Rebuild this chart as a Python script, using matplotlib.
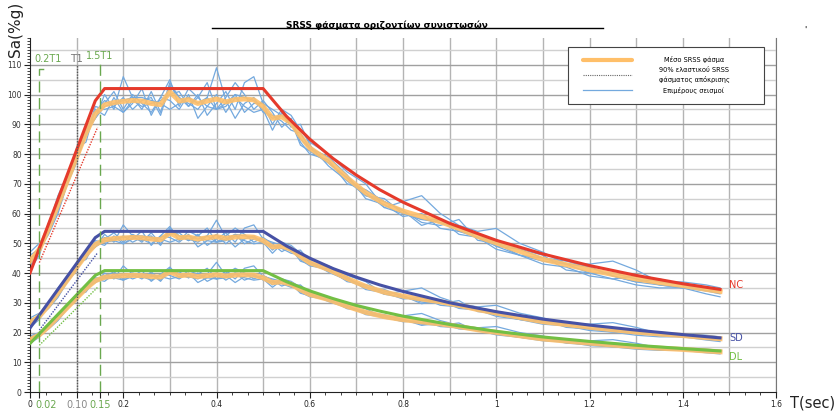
import matplotlib
matplotlib.use("Agg")
import matplotlib.pyplot as plt
from matplotlib.ticker import MultipleLocator
from matplotlib.lines import Line2D
from matplotlib.patches import Rectangle
import matplotlib.transforms as mtransforms
import numpy as np

# periods used for the individual records and the mean (sec)
T = [0, 0.02, 0.04, 0.06, 0.08, 0.10, 0.12, 0.14, 0.16, 0.18, 0.20, 0.22, 0.24,
     0.26, 0.28, 0.30, 0.32, 0.34, 0.36, 0.38, 0.40, 0.42, 0.44, 0.46, 0.48,
     0.50, 0.52, 0.54, 0.56, 0.58, 0.60, 0.64, 0.68, 0.72, 0.76, 0.80, 0.84,
     0.88, 0.92, 0.96, 1.00, 1.05, 1.10, 1.15, 1.20, 1.25, 1.30, 1.35, 1.40,
     1.45, 1.48]

# mean SRSS spectrum at NC level (%g)
mean_nc = [44, 48, 55, 63, 71, 79, 87, 93.5, 96.5, 97.3, 97.7, 98, 97.8, 97,
           96.6, 100.9, 97.8, 98.3, 97, 97.8, 98.5, 97.5, 98.3, 98.5, 98.2,
           96, 92, 92.5, 90.5, 86, 82, 77.8, 72, 67, 63.3, 60.8, 59, 57.2, 55,
           52.3, 50.1, 47.3, 44.6, 42.8, 41.1, 39.5, 38, 36.8, 35.8, 34.5, 33.8]

# individual records at NC level (%g)
rec_a = [41, 46, 56, 66, 73, 80, 89, 92, 100, 95, 106, 99, 95, 101, 94, 104,
         99, 96, 100, 93, 97, 101, 95, 104, 106, 97, 90, 95, 93, 88, 84, 80,
         74, 70, 62, 64, 66, 60, 56, 54, 55, 50, 47, 43, 43, 44, 41, 37, 37,
         36, 35]
rec_b = [47, 50, 54, 61, 70, 82, 84, 95, 93, 99, 94, 97, 102, 93, 99, 98, 95,
         100, 92, 96, 100, 94, 99, 96, 94, 95, 88, 94, 89, 90, 83, 76, 71, 66,
         65, 60, 58, 58, 53, 52, 49, 48, 45, 43, 40, 38, 39, 37, 36, 35, 34]
rec_c = [43, 48, 53, 60, 70, 77, 88, 92, 97, 101, 95, 100, 97, 94, 99, 105,
         96, 102, 99, 104, 95, 99, 104, 100, 95, 98, 94, 89, 92, 84, 80, 78,
         70, 68, 64, 61, 57, 56, 58, 51, 50, 46, 45, 44, 42, 39, 37, 38, 36,
         34, 33]
rec_d = [45, 47, 57, 64, 72, 78, 86, 96, 95, 96, 99, 95, 98, 99, 93, 103, 99,
         97, 95, 99, 109, 98, 92, 97, 99, 94, 93, 91, 88, 87, 82, 79, 73, 65,
         63, 59, 60, 55, 54, 53, 49, 46, 43, 42, 39, 38, 36, 35, 35, 33, 32]
rec_e = [42, 49, 55, 63, 71, 79, 88, 94, 98, 96, 94, 98, 96, 97, 98, 100, 101,
         96, 99, 96, 95, 96, 100, 94, 97, 97, 95, 93, 91, 83, 81, 77, 72, 67,
         62, 60, 58, 57, 55, 53, 50, 48, 46, 41, 40, 40, 38, 36, 35, 34, 34]
rec_f = [46, 48, 55, 64, 70, 78, 87, 92, 96, 97, 98, 99, 99, 98, 97, 95, 97,
         99, 97, 99, 95, 97, 100, 99, 98, 95, 92, 93, 90, 85, 82, 77, 72, 66,
         64, 61, 56, 58, 54, 52, 48, 46, 44, 43, 42, 39, 37, 36, 35, 35, 34]
records = [rec_a, rec_b, rec_c, rec_d, rec_e, rec_f]

# elastic design spectra (%g)
T_design = [0, 0.14, 0.16, 0.50, 0.55, 0.60, 0.65, 0.70, 0.75, 0.80, 0.90,
            1.00, 1.10, 1.20, 1.30, 1.40, 1.48]
nc_design = [40, 97.9, 102, 102, 92.7, 85, 78.5, 72.9, 68, 63.8, 56.7, 51,
             46.4, 42.5, 39.2, 36.4, 34.5]
sd_design = [21.5, 51.9, 54, 54, 49.1, 45, 41.5, 38.6, 36, 33.8, 30, 27, 24.5,
             22.5, 20.8, 19.3, 18.2]
dl_design = [16.3, 39.2, 40.8, 40.8, 37.1, 34, 31.4, 29.1, 27.2, 25.5, 22.7,
             20.4, 18.5, 17, 15.7, 14.6, 13.8]

# 90% of elastic spectrum between 0.2T1 and 1.5T1
T_90 = [0.02, 0.145]
nc_90 = [43.5, 89]
sd_90 = [20.8, 46.8]
dl_90 = [15.7, 35.2]

# scale of the SD / DL record sets relative to NC
SD_SCALE = 0.53
DL_SCALE = 0.40

T1 = 0.10
levels = [("NC", nc_design, nc_90, 1.0, "#e53a2b", 36),
          ("SD", sd_design, sd_90, SD_SCALE, "#4651a5", 18.2),
          ("DL", dl_design, dl_90, DL_SCALE, "#72bf44", 11.8)]

fig = plt.figure(figsize=(8.39, 4.11), dpi=100)
ax = fig.add_axes([30/839, 19/411, 746/839, 354/411])
ax.set_xlim(0, 1.6)
ax.set_ylim(0, 119)

# grid
for xv in np.arange(0.1, 1.61, 0.1):
    ax.axvline(xv, color="#b4b4b4", lw=1.0, zorder=0)
for yv in range(5, 119, 5):
    ax.axhline(yv, color="#a0a0a0" if yv % 10 == 0 else "#d0d0d0", lw=1.0, zorder=0)

blue = "#74a9de"
orange = "#ffbf69"
for name, design, d90, sc, col, ylab in levels:
    for r in records:
        ax.plot(T, np.array(r) * sc, color=blue, lw=0.9, zorder=2)
    ax.plot(T, np.array(mean_nc) * sc, color=orange, lw=3.6, alpha=0.9,
            zorder=3, solid_joinstyle="round")
    ax.plot(T_design, design, color=col, lw=2.2, zorder=4)
    ax.plot(T_90, d90, color=col, lw=1.0, ls=(0, (1, 1)), zorder=5)
    ax.text(1.5, ylab, name, color=col, fontsize=7, va="center", ha="left")

# reference period lines
green = "#6aa84f"
ax.plot([0.2*T1, 0.2*T1, 0.2*T1 + 0.009], [0, 108.5, 108.5], color=green,
        lw=1.0, ls=(0, (8, 4)), zorder=6)
ax.plot([1.5*T1, 1.5*T1, 1.5*T1 - 0.009], [0, 110.3, 110.3], color=green,
        lw=1.0, ls=(0, (8, 4)), zorder=6)
ax.plot([T1, T1], [0, 110], color="#555555", lw=1.0, ls=(0, (1, 1)), zorder=6)
ax.text(0.2*T1 - 0.01, 112, "0.2T1", color=green, fontsize=7, ha="left", va="center")
ax.text(T1 - 0.014, 112, "T1", color="#777777", fontsize=7.5, ha="left", va="center")
ax.text(1.5*T1 - 0.03, 113, "1.5T1", color=green, fontsize=7, ha="left", va="center")

# axes
ax.spines["top"].set_visible(False)
ax.spines["right"].set_color("#777777")
ax.spines["left"].set_color("#222222")
ax.spines["bottom"].set_color("#222222")

xt = [0, 0.02, 0.10, 0.15, 0.2, 0.4, 0.6, 0.8, 1.0, 1.2, 1.4, 1.6]
xl = ["0", "0.02", "0.10", "0.15", "0.2", "0.4", "0.6", "0.8", "1", "1.2", "1.4", "1.6"]
ax.set_xticks(xt)
ax.set_xticklabels(xl)
ax.xaxis.set_minor_locator(MultipleLocator(0.2/6))
ax.yaxis.set_major_locator(MultipleLocator(10))
ax.yaxis.set_minor_locator(MultipleLocator(1))
ax.tick_params(axis="both", which="major", labelsize=5.5, length=4, width=0.8,
               colors="#222222", pad=2)
ax.tick_params(axis="both", which="minor", length=2.5, width=0.6, colors="#222222")
ax.tick_params(axis="y", labelcolor="#333333")
shift = mtransforms.ScaledTranslation(-3/72, 0, fig.dpi_scale_trans)
for lab, val in zip(ax.get_xticklabels(), xt):
    if val == 0.02:
        lab.set_color(green)
        lab.set_fontsize(7)
        lab.set_horizontalalignment("left")
        lab.set_transform(lab.get_transform() + shift)
    elif val == 0.15:
        lab.set_color(green)
        lab.set_fontsize(7)
    elif val == 0.10:
        lab.set_color("#888888")
        lab.set_fontsize(7)

# legend box
ax.add_patch(Rectangle((0.721, 0.8136), 0.263, 0.161, transform=ax.transAxes,
                       facecolor="white", edgecolor="#444444", lw=0.8, zorder=10))
ax.plot([0.741, 0.807], [0.938, 0.938], transform=ax.transAxes, color=orange,
        lw=3.0, zorder=11, solid_capstyle="round")
ax.plot([0.741, 0.807], [0.896, 0.896], transform=ax.transAxes, color="#666666",
        lw=0.8, ls=(0, (1, 1)), zorder=11)
ax.plot([0.741, 0.807], [0.853, 0.853], transform=ax.transAxes, color=blue,
        lw=0.9, zorder=11)
ax.text(0.89, 0.938, "Μέσο SRSS φάσμα", transform=ax.transAxes, fontsize=4.8,
        ha="center", va="center", zorder=12)
ax.text(0.89, 0.895, "90% ελαστικού SRSS\nφάσματος απόκρισης", transform=ax.transAxes,
        fontsize=4.8, ha="center", va="center", linespacing=1.4, zorder=12)
ax.text(0.89, 0.853, "Επιμέρους σεισμοί", transform=ax.transAxes, fontsize=4.8,
        ha="center", va="center", zorder=12)

# titles and axis names
fig.text(0.461, 0.939, "SRSS φάσματα οριζοντίων συνιστωσών", fontsize=6.5,
         fontweight="bold", ha="center", va="center")
fig.add_artist(Line2D([0.2527, 0.7187], [0.9319, 0.9319], color="black", lw=1.0))
fig.text(0.018, 0.929, "Sa(%g)", fontsize=11, rotation=90, ha="center", va="center",
         color="#222222")
fig.text(0.968, 0.02, "T(sec)", fontsize=10.5, ha="center", va="center", color="#222222")
fig.text(0.96, 0.925, "'", fontsize=6, ha="center", va="center")

fig.savefig("out.png", dpi=100)
